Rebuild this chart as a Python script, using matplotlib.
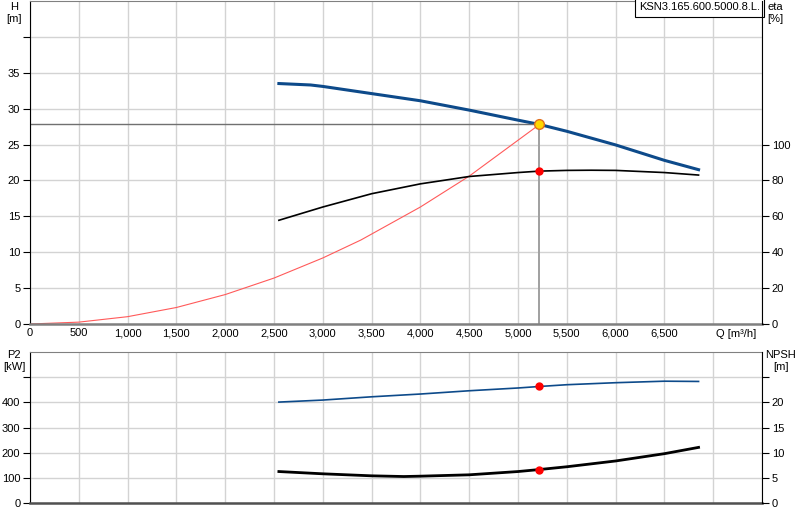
import matplotlib.pyplot as plt

plt.rcParams['font.family'] = ['Liberation Sans', 'DejaVu Sans']

# pump curve data
q_head = [2550, 2875, 3000, 3500, 4000, 4500, 5000, 5220, 5500, 6000, 6500, 6850]
head = [33.5, 33.3, 33.1, 32.1, 31.1, 29.8, 28.4, 27.8, 26.85, 24.95, 22.8, 21.5]

q_eta = [2550, 3000, 3500, 4000, 4500, 5000, 5220, 5500, 5750, 6000, 6500, 6850]
eta = [57.8, 65.2, 72.6, 78.1, 82.2, 84.4, 85.2, 85.6, 85.7, 85.6, 84.4, 83.0]

q_sys = [0, 500, 1000, 1500, 2000, 2500, 3000, 3390, 4000, 4500, 5220]
h_sys = [0, 0.26, 1.02, 2.3, 4.1, 6.4, 9.2, 11.7, 16.3, 20.6, 27.8]

q_p2 = [2550, 3000, 3500, 4000, 4500, 5000, 5220, 5500, 6000, 6500, 6850]
p2 = [401, 409, 422, 433, 446, 457, 463, 470, 478, 484, 483]

q_npsh = [2550, 3000, 3500, 3830, 4000, 4500, 5000, 5220, 5500, 6000, 6500, 6850]
npsh = [6.25, 5.8, 5.4, 5.26, 5.33, 5.6, 6.25, 6.65, 7.2, 8.35, 9.8, 11.05]

q_op = 5220
h_op = 27.8
eta_op = 85.2
p2_op = 463
npsh_op = 6.65

blue = '#0d4a8a'
grid_c = '#d3d3d3'
fs = 8

fig = plt.figure(figsize=(8, 5.2), dpi=100)
ax1 = fig.add_axes([30/800, 1 - 324/520, 732/800, 323/520])
ax2 = fig.add_axes([30/800, 1 - 503/520, 732/800, 151/520])

for ax in (ax1, ax2):
    ax.set_xlim(0, 7500)
    ax.set_xticks(range(0, 7501, 500))
    ax.grid(True, color=grid_c, lw=1)
    ax.set_axisbelow(True)
    ax.spines['top'].set_color('#808080')
    ax.spines['bottom'].set_color('#808080')
    ax.spines['bottom'].set_linewidth(1.8)
    ax.spines['left'].set_color('black')
    ax.spines['right'].set_visible(False)
    ax.tick_params(labelsize=fs, length=5, pad=2, direction='out')

# top panel
ax1.set_ylim(0, 45)
ax1.set_yticks(range(0, 45, 5))
ax1.set_yticklabels([str(v) if v <= 35 else '' for v in range(0, 45, 5)])
ax1.set_xticklabels([f'{v:,}' if v <= 6500 else '' for v in range(0, 7501, 500)])
ax1.tick_params(axis='x', length=0, pad=3)

ax1.plot(q_sys, h_sys, color='#ff5a5a', lw=0.8)
ax1.plot(q_head, head, color=blue, lw=2.2)
ax1.plot([0, q_op], [h_op, h_op], color='#707070', lw=1)
ax1.plot([q_op, q_op], [0, h_op], color='#a0a0a0', lw=1.4)

ax1e = ax1.twinx()
ax1e.set_ylim(0, 180)
ax1e.set_yticks(range(0, 101, 20))
ax1e.tick_params(labelsize=fs, length=5, pad=2)
for s in ('top', 'bottom', 'left'):
    ax1e.spines[s].set_visible(False)
ax1e.spines['right'].set_color('black')
ax1e.plot(q_eta, eta, color='black', lw=1.2)
ax1e.plot(q_op, eta_op, 'o', color='red', ms=5)
ax1.plot(q_op, h_op, 'o', color='#ffd700', mec='#e07020', ms=7, zorder=5)

ax1.text(7440, -0.75, 'Q [m\u00b3/h]', ha='right', va='top', fontsize=fs)
fig.text(14/800, 1 - 2/520, 'H\n[m]', ha='center', va='top', fontsize=fs, linespacing=1.3)
fig.text(775/800, 1 - 2/520, 'eta\n[%]', ha='center', va='top', fontsize=fs, linespacing=1.3)
ax1.text(0.997, 0.996, 'KSN3.165.600.5000.8.L.', transform=ax1.transAxes,
         ha='right', va='top', fontsize=fs,
         bbox=dict(facecolor='white', edgecolor='black', lw=0.8, pad=3))

# bottom panel
ax2.set_ylim(0, 600)
ax2.set_yticks(range(0, 501, 100))
ax2.set_yticklabels([str(v) if v <= 400 else '' for v in range(0, 501, 100)])
ax2.tick_params(axis='x', labelbottom=False, length=0)
ax2.spines['bottom'].set_color('#505050')
ax2.plot(q_p2, p2, color=blue, lw=1.2)
ax2.plot(q_op, p2_op, 'o', color='red', ms=5)

ax2n = ax2.twinx()
ax2n.set_ylim(0, 30)
ax2n.set_yticks(range(0, 26, 5))
ax2n.set_yticklabels([str(v) if v <= 20 else '' for v in range(0, 26, 5)])
ax2n.tick_params(labelsize=fs, length=5, pad=2)
for s in ('top', 'bottom', 'left'):
    ax2n.spines[s].set_visible(False)
ax2n.spines['right'].set_color('black')
ax2n.plot(q_npsh, npsh, color='black', lw=2)
ax2n.plot(q_op, npsh_op, 'o', color='red', ms=5)

fig.text(14/800, 1 - 350/520, 'P2\n[kW]', ha='center', va='top', fontsize=fs, linespacing=1.3)
fig.text(781/800, 1 - 350/520, 'NPSH\n[m]', ha='center', va='top', fontsize=fs, linespacing=1.3)

fig.savefig('out.png', dpi=100)
